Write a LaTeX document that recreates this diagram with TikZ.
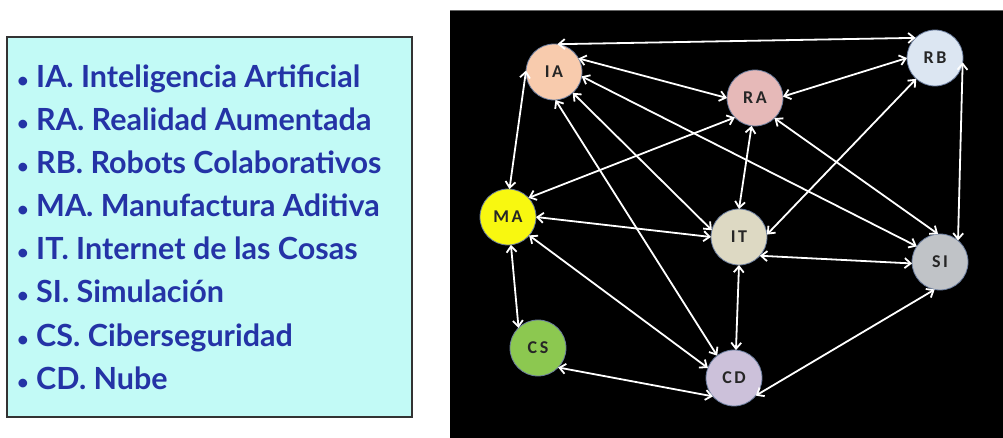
\documentclass[tikz,border=0pt]{standalone}
\usepackage{fontspec}
\setmainfont{Lato}
\newfontfamily\lblfont[LetterSpace=14]{Carlito}
\usetikzlibrary{arrows.meta}
\definecolor{boxfill}{HTML}{C2FAF6}
\definecolor{listblue}{HTML}{2433A6}
\definecolor{cIA}{HTML}{F8CBAD}
\definecolor{cRA}{HTML}{E6B9B8}
\definecolor{cRB}{HTML}{DCE6F2}
\definecolor{cMA}{HTML}{F8F810}
\definecolor{cIT}{HTML}{DDD9C3}
\definecolor{cSI}{HTML}{C0C3C7}
\definecolor{cCS}{HTML}{8CC850}
\definecolor{cCD}{HTML}{CCC1DA}
\definecolor{rimc}{HTML}{6A7C9C}
\tikzset{
  listline/.style={anchor=base west, inner sep=0pt, text=listblue, font=\bfseries\fontsize{30.5}{34}\selectfont},
  tech/.style={circle, minimum size=56pt, inner sep=0pt, outer sep=0pt, draw=rimc, line width=0.8pt,
    font=\lblfont\bfseries\fontsize{18}{19}\selectfont, text=black!85},
  link/.style={draw=white, line width=1.8pt, {Straight Barb[length=6pt,width=10pt]}-{Straight Barb[length=6pt,width=10pt]}}
}
\begin{document}
\begin{tikzpicture}[x=1pt,y=-1pt]
\useasboundingbox (0,0) rectangle (1003,438);
\fill[white] (0,0) rectangle (1003,438);
% legend box
\node[draw=black!80, line width=1.8pt, fill=boxfill, minimum width=405pt, minimum height=380pt, inner sep=0pt] (legend) at (209.5,227) {};
\node[listline] (l1) at (17,88) {{\fontsize{20}{20}\selectfont\textbullet}\ IA. Inteligencia Artificial};
\node[listline] (l2) at (17,131) {{\fontsize{20}{20}\selectfont\textbullet}\ RA. Realidad Aumentada};
\node[listline] (l3) at (17,174) {{\fontsize{20}{20}\selectfont\textbullet}\ RB. Robots Colaborativos};
\node[listline] (l4) at (17,217) {{\fontsize{20}{20}\selectfont\textbullet}\ MA. Manufactura Aditiva};
\node[listline] (l5) at (17,259) {{\fontsize{20}{20}\selectfont\textbullet}\ IT. Internet de las Cosas};
\node[listline] (l6) at (17,302) {{\fontsize{20}{20}\selectfont\textbullet}\ SI. Simulación};
\node[listline] (l7) at (17,346) {{\fontsize{20}{20}\selectfont\textbullet}\ CS. Ciberseguridad};
\node[listline] (l8) at (17,389) {{\fontsize{20}{20}\selectfont\textbullet}\ CD. Nube};
% dark panel
\fill[black] (450,10) rectangle (1003,438);
\draw[black!60, line width=0.8pt] (450,10) -- (1003,10);
% technology nodes
\node[tech, fill=cIA] (IA) at (554,72) {IA};
\node[tech, fill=cRA] (RA) at (755,98) {RA};
\node[tech, fill=cRB] (RB) at (935,58) {RB};
\node[tech, fill=cMA] (MA) at (508,217) {MA};
\node[tech, fill=cIT] (IT) at (739,237) {IT};
\node[tech, fill=cSI] (SI) at (940,262) {SI};
\node[tech, fill=cCS] (CS) at (538,348) {CS};
\node[tech, fill=cCD] (CD) at (734,378) {CD};
% connectors
\draw[link] (IA.83) -- (RB.134);
\draw[link] (IA.29) -- (RA.180);
\draw[link] (IA.-9) -- (SI.146);
\draw[link] (IA.-48) -- (IT.166);
\draw[link] (IA.-87) -- (CD.127);
\draw[link] (IA.177) -- (MA.87);
\draw[link] (RA.3) -- (RB.180);
\draw[link] (RA.224) -- (MA.43);
\draw[link] (RA.263) -- (IT.90);
\draw[link] (RA.-46) -- (SI.94);
\draw[link] (RB.228) -- (IT.5);
\draw[link] (RB.-9) -- (SI.50);
\draw[link] (MA.0) -- (IT.180);
\draw[link] (MA.-84) -- (CS.134);
\draw[link] (MA.-41) -- (CD.159);
\draw[link] (IT.-42) -- (SI.183);
\draw[link] (IT.-90) -- (CD.86);
\draw[link] (SI.259) -- (CD.-39);
\draw[link] (CS.-44) -- (CD.221);
\end{tikzpicture}
\end{document}
